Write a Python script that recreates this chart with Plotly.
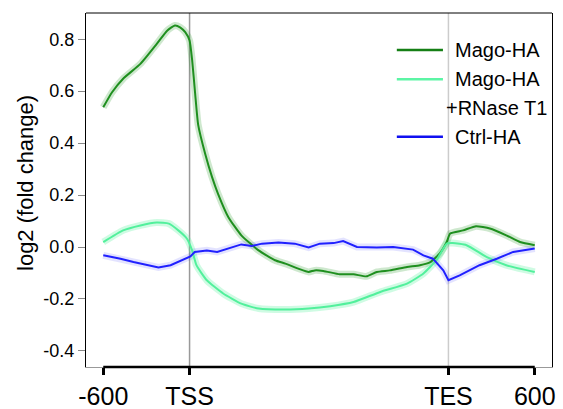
import plotly.graph_objects as go

# ---- data (x in metagene bins: -600 -> 0, TSS -> 100, TES -> 400, +600 -> 500) ----
mago_x = [0, 10, 23, 43, 62, 74, 83, 89, 95, 100, 103, 106.5, 110, 118, 126, 133, 145, 160, 180,
          199, 211, 226, 238, 245, 255, 274, 290, 305, 317, 332, 352, 367, 379, 390, 398, 402,
          417, 432, 448, 467, 483, 500]
mago_y = [0.538, 0.595, 0.648, 0.705, 0.782, 0.833, 0.853, 0.846, 0.827, 0.795, 0.72, 0.59, 0.47,
          0.36, 0.27, 0.205, 0.115, 0.045, -0.013, -0.051, -0.064, -0.083, -0.096, -0.09, -0.092,
          -0.105, -0.105, -0.113, -0.096, -0.09, -0.077, -0.07, -0.058, -0.025, 0.019, 0.052,
          0.064, 0.08, 0.071, 0.045, 0.019, 0.007]

rnase_x = [0, 23, 43, 62, 76, 87, 97, 103, 108, 120, 139, 160, 180, 211, 238, 263, 290, 321, 352,
           371, 386, 398, 405, 421, 444, 467, 500]
rnase_y = [0.019, 0.064, 0.083, 0.094, 0.09, 0.064, 0.032, -0.013, -0.07, -0.128, -0.179, -0.218,
           -0.237, -0.241, -0.237, -0.228, -0.212, -0.173, -0.141, -0.102, -0.051, 0.013, 0.015,
           0.007, -0.038, -0.07, -0.096]

ctrl_x = [0, 20, 35, 51, 64, 78, 89, 101, 106, 120, 132, 145, 160, 172, 184, 203, 222, 238, 251,
          267, 278, 294, 317, 336, 359, 371, 382, 394, 400, 413, 436, 456, 475, 500]
ctrl_y = [-0.032, -0.045, -0.058, -0.068, -0.079, -0.07, -0.055, -0.036, -0.019, -0.013, -0.019,
          -0.006, 0.010, 0.004, 0.013, 0.017, 0.013, -0.002, 0.013, 0.015, 0.023, 0.0, -0.002, 0.0,
          -0.01, -0.032, -0.045, -0.09, -0.128, -0.109, -0.07, -0.045, -0.019, -0.006]

x_tick_pos = [0, 100, 400, 500]
x_tick_text = ["-600", "TSS", "TES", "600"]
y_tick_vals = [-0.4, -0.2, 0.0, 0.2, 0.4, 0.6, 0.8]
y_tick_text = ["-0.4", "-0.2", "0.0", "0.2", "0.4", "0.6", "0.8"]
series_names = ["Mago-HA", "Mago-HA", "+RNase T1", "Ctrl-HA"]

FONT = "Liberation Sans, Arial, Helvetica, sans-serif"
C_MAGO = "#1f8f1f"
C_RNASE = "#52f09c"
C_CTRL = "#2020ff"

fig = go.Figure()
series = [
    (mago_x, mago_y, C_MAGO, "rgba(34,150,34,0.22)", "spline"),
    (rnase_x, rnase_y, C_RNASE, "rgba(82,240,156,0.28)", "spline"),
    (ctrl_x, ctrl_y, C_CTRL, "rgba(40,40,255,0.13)", "linear"),
]
for xs, ys, c, band, shp in series:
    fig.add_trace(go.Scatter(x=xs, y=ys, mode="lines",
                             line=dict(color=band, width=7, shape=shp, smoothing=0.5),
                             showlegend=False, hoverinfo="skip"))
for xs, ys, c, band, shp in series:
    fig.add_trace(go.Scatter(x=xs, y=ys, mode="lines",
                             line=dict(color=c, width=2, shape=shp, smoothing=0.5),
                             showlegend=False))

shapes = [
    dict(type="line", xref="x", yref="paper", x0=100, x1=100, y0=0, y1=1,
         line=dict(color="#999999", width=1.5), layer="below"),
    dict(type="line", xref="x", yref="paper", x0=400, x1=400, y0=0, y1=1,
         line=dict(color="#cccccc", width=1.5), layer="below"),
    dict(type="line", xref="paper", yref="paper", x0=0, x1=1, y0=1, y1=1,
         line=dict(color="black", width=1)),
    dict(type="line", xref="x", yref="paper", x0=x_tick_pos[0], x1=x_tick_pos[-1], y0=0, y1=0,
         line=dict(color="black", width=2.6)),
]

leg_line_y = [0.8955, 0.8127, 0.6506]
leg_colors = ["#157f15", "#5cf5a5", "#1010f0"]
for yy, c in zip(leg_line_y, leg_colors):
    shapes.append(dict(type="line", xref="paper", yref="paper", x0=0.667, x1=0.766, y0=yy, y1=yy,
                       line=dict(color=c, width=2.6)))

annotations = [
    dict(text="log2 (fold change)", xref="paper", yref="paper", x=-0.13, y=0.521,
         textangle=-90, showarrow=False, xanchor="center", yanchor="middle",
         font=dict(size=22, color="black", family=FONT)),
]
leg_text_pos = [(0.787, 0.8955), (0.787, 0.8127), (0.768, 0.733), (0.787, 0.6506)]
for (xx, yy), t in zip(leg_text_pos, series_names):
    annotations.append(dict(text=t, xref="paper", yref="paper", x=xx, y=yy, showarrow=False,
                            xanchor="left", yanchor="middle",
                            font=dict(size=20, color="black", family=FONT)))

fig.update_layout(
    width=563, height=409,
    margin=dict(l=86, r=11, t=13, b=42),
    paper_bgcolor="white", plot_bgcolor="white",
    font=dict(family=FONT, color="black"),
    shapes=shapes, annotations=annotations,
    showlegend=False,
)
fig.update_xaxes(range=[-20, 520], showgrid=False, zeroline=False, automargin=False,
                 showline=True, linecolor="#999999", linewidth=1, mirror=False,
                 tickmode="array", tickvals=x_tick_pos, ticktext=x_tick_text,
                 ticks="outside", ticklen=7, tickwidth=2.6, tickcolor="black",
                 tickfont=dict(size=25, color="black", family=FONT))
fig.update_yaxes(range=[-0.462, 0.901], showgrid=False, zeroline=False, automargin=False,
                 showline=True, linecolor="black", linewidth=1, mirror=True,
                 tickmode="array", tickvals=y_tick_vals, ticktext=y_tick_text,
                 ticks="outside", ticklen=7, tickwidth=1, tickcolor="#888888",
                 tickfont=dict(size=18, color="black", family=FONT))

fig.write_html("out.html", config={"displayModeBar": False},
               post_script="document.body.style.margin='0px';document.body.style.overflow='hidden';")
